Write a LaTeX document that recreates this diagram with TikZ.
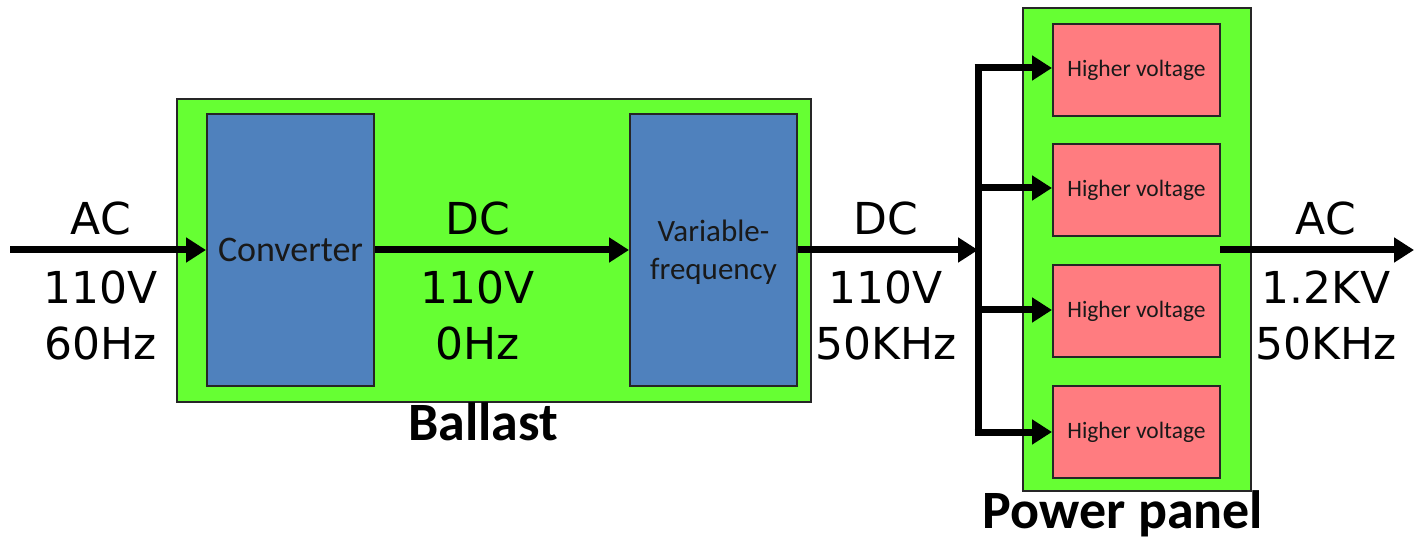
\documentclass[tikz,border=0pt]{standalone}
\usepackage{fontspec}
\setmainfont{Carlito}
\newfontfamily\lblfont{DejaVu Sans}
\usetikzlibrary{arrows.meta}
\definecolor{gr}{HTML}{66FF33}
\definecolor{bl}{HTML}{4F81BD}
\definecolor{rd}{HTML}{FF7C80}
\begin{document}
\begin{tikzpicture}[x=1pt,y=-1pt,
  box/.style={draw=black!85,line width=2pt,inner sep=0pt,anchor=north west},
  panel/.style={box,fill=gr},
  blk/.style={box,fill=bl},
  hv/.style={box,fill=rd},
  hvtxt/.style={font=\fontsize{23.5}{28}\selectfont,text=black!90},
  wire/.style={line width=7pt,-{Triangle[length=20pt,width=24pt]}},
  bus/.style={line width=7pt},
  lbl/.style={font=\lblfont\fontsize{44}{56}\selectfont,align=center},
  captxt/.style={font=\bfseries\fontsize{54}{58}\selectfont,anchor=base}]
\useasboundingbox (0,0) rectangle (1414,545);
% Ballast
\node[panel,minimum width=634pt,minimum height=303pt] (ballast) at (176,98) {};
\node[blk,minimum width=167pt,minimum height=272pt] (conv) at (206,113) {};
\node at (conv.center) [font=\fontsize{36}{40}\selectfont,text=black!90] (convt) {Converter};
\node[blk,minimum width=167pt,minimum height=272pt] (vf) at (629,113) {};
\node at ([yshift=-2pt]vf.center) [font=\fontsize{31}{38}\selectfont,align=center,text=black!90] (vft) {Variable-\\frequency};
\node[captxt] (ballastcap) at (483,440) {Ballast};
% Power panel
\node[panel,minimum width=228pt,minimum height=483pt] (pp) at (1022,7) {};
\node[hv,minimum width=167pt,minimum height=92pt] (h1) at (1052,23) {};
\node[hv,minimum width=167pt,minimum height=92pt] (h2) at (1052,143) {};
\node[hv,minimum width=167pt,minimum height=92pt] (h3) at (1052,264) {};
\node[hv,minimum width=167pt,minimum height=92pt] (h4) at (1052,385) {};
\foreach \i in {1,...,4}{\node[hvtxt] (t\i) at (h\i.center) {Higher voltage};}
\node[captxt] (ppcap) at (1123,528) {Power panel};
% coordinates
\coordinate (in) at (10,250);
\coordinate (bj) at (978,250);
\coordinate (btop) at (978,68);
\coordinate (bbot) at (978,432);
\coordinate (b2) at (978,188);
\coordinate (b3) at (978,310);
\coordinate (outs) at (1220,250);
\coordinate (oute) at (1414,250);
% wires
\draw[wire] (in) -- (conv.west |- in);
\draw[wire] (conv.east |- in) -- (vf.west |- in);
\draw[wire] (vf.east |- in) -- (bj);
\draw[bus] ([yshift=-3.5pt]btop) -- ([yshift=3.5pt]bbot);
\draw[wire] ([xshift=-3.5pt]btop) -- (h1.west |- btop);
\draw[wire] (b2) -- (h2.west |- b2);
\draw[wire] (b3) -- (h3.west |- b3);
\draw[wire] ([xshift=-3.5pt]bbot) -- (h4.west |- bbot);
\draw[wire] (outs) -- (oute);
% labels
\node[lbl] (l1a) at (101,218) {AC};
\node[lbl] (l1b) at (101,315) {110V\\60Hz};
\node[lbl] (l2a) at (478,218) {DC};
\node[lbl] (l2b) at (478,315) {110V\\0Hz};
\node[lbl] (l3a) at (886,218) {DC};
\node[lbl] (l3b) at (886,315) {110V\\50KHz};
\node[lbl] (l4a) at (1326,218) {AC};
\node[lbl] (l4b) at (1326,315) {1.2KV\\50KHz};
\end{tikzpicture}
\end{document}
